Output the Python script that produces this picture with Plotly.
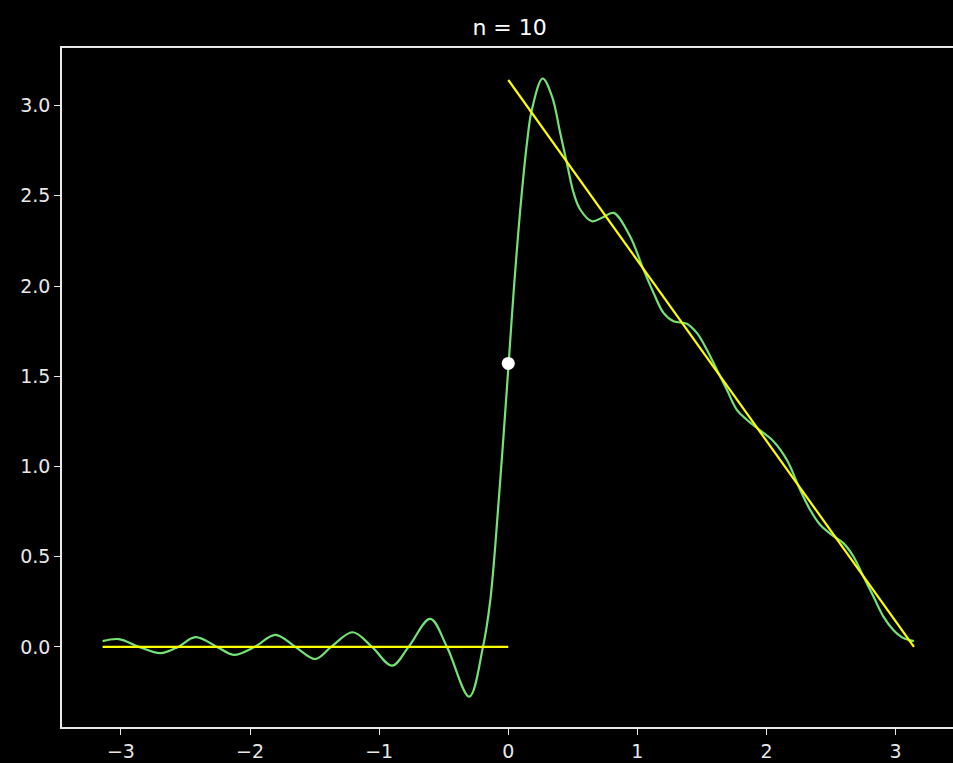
import plotly.graph_objects as go

# Partial Fourier sum (n = 10)
green_x = [-3.1416, -3.016, -2.86, -2.693, -2.557, -2.423, -2.255, -2.126, -1.964, -1.803,
           -1.649, -1.494, -1.372, -1.205, -1.055, -0.900, -0.772, -0.604, -0.475, -0.302,
           -0.196, -0.139, -0.07, 0.0, 0.041, 0.093, 0.145, 0.183, 0.266, 0.338,
           0.402, 0.459, 0.506, 0.557, 0.648, 0.73, 0.815, 0.94, 1.047, 1.125,
           1.202, 1.280, 1.383, 1.460, 1.538, 1.615, 1.693, 1.770, 1.847, 1.950,
           2.053, 2.157, 2.260, 2.337, 2.415, 2.505, 2.595, 2.673, 2.750, 2.828,
           2.905, 2.982, 3.047, 3.098, 3.1416]
green_y = [0.032, 0.043, 0.0, -0.035, 0.0, 0.054, 0.0, -0.044, 0.0, 0.067,
           0.0, -0.067, 0.0, 0.081, 0.0, -0.104, 0.0, 0.155, 0.0, -0.276,
           0.0, 0.261, 0.85, 1.54, 1.962, 2.424, 2.794, 2.978, 3.150, 3.052,
           2.849, 2.664, 2.516, 2.424, 2.359, 2.38, 2.405, 2.28, 2.091, 1.962,
           1.851, 1.804, 1.791, 1.740, 1.647, 1.536, 1.425, 1.314, 1.259, 1.20,
           1.14, 1.037, 0.871, 0.760, 0.677, 0.621, 0.575, 0.501, 0.390, 0.279,
           0.168, 0.094, 0.054, 0.039, 0.032]

# Target function, two pieces
left_x = [-3.1416, 0.0]
left_y = [0.0, 0.0]
right_x = [0.0, 3.1416]
right_y = [3.1416, 0.0]

# Midpoint value at the jump
dot_x = [0.0]
dot_y = [1.5708]

x_ticks = [-3, -2, -1, 0, 1, 2, 3]
x_tick_text = ["\u22123", "\u22122", "\u22121", "0", "1", "2", "3"]
y_ticks = [0.0, 0.5, 1.0, 1.5, 2.0, 2.5, 3.0]
y_tick_text = ["0.0", "0.5", "1.0", "1.5", "2.0", "2.5", "3.0"]

fig = go.Figure()
fig.add_trace(go.Scatter(x=green_x, y=green_y, mode="lines",
                         line=dict(color="#74e274", width=2.2, shape="spline", smoothing=1.0),
                         hoverinfo="skip", showlegend=False))
fig.add_trace(go.Scatter(x=left_x, y=left_y, mode="lines",
                         line=dict(color="#ffff00", width=2.2), showlegend=False))
fig.add_trace(go.Scatter(x=right_x, y=right_y, mode="lines",
                         line=dict(color="#ffff00", width=2.2), showlegend=False))
fig.add_trace(go.Scatter(x=dot_x, y=dot_y, mode="markers",
                         marker=dict(color="white", size=13), showlegend=False))

font = "DejaVu Sans, sans-serif"
fig.update_layout(
    width=953, height=763,
    paper_bgcolor="black", plot_bgcolor="black",
    margin=dict(l=62, r=0, t=48, b=36),
    title=dict(text="n = 10", x=0.5347, xanchor="center", y=1 - 27 / 763, yanchor="middle",
               yref="container", font=dict(family=font, size=22, color="white")),
    font=dict(family=font, color="white"),
)
fig.update_xaxes(range=[-3.456, 3.444], tickvals=x_ticks, ticktext=x_tick_text,
                 showgrid=False, zeroline=False, showline=True, mirror=True,
                 linecolor="#e8e8e8", linewidth=1.5, ticks="outside", ticklen=6,
                 tickwidth=1.3, tickcolor="#e8e8e8",
                 tickfont=dict(family=font, size=19, color="#e8e8e8"))
fig.update_yaxes(range=[-0.444, 3.319], tickvals=y_ticks, ticktext=y_tick_text,
                 showgrid=False, zeroline=False, showline=True, mirror=False,
                 linecolor="#e8e8e8", linewidth=1.5, ticks="outside", ticklen=6,
                 tickwidth=1.3, tickcolor="#e8e8e8",
                 tickfont=dict(family=font, size=19, color="#e8e8e8"))

fig.write_html("out.html", config={"displayModeBar": False},
               post_script="document.body.style.margin='0';document.body.style.background='black';")
